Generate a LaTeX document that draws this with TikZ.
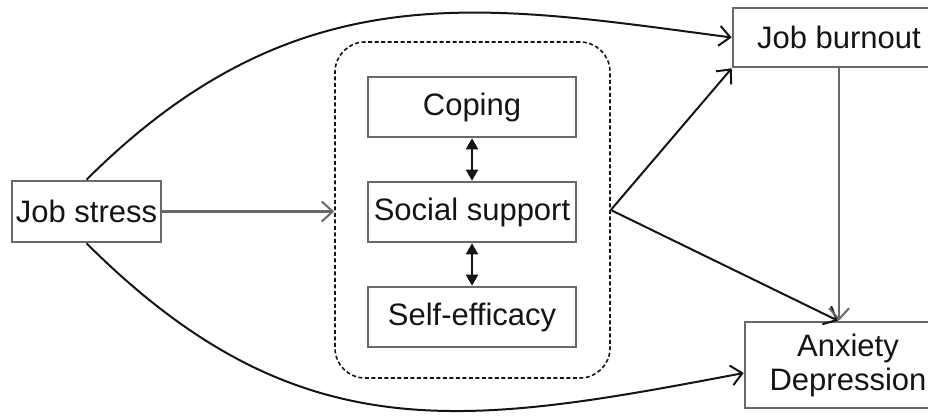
\documentclass[tikz,border=0pt]{standalone}
\usepackage{fontspec}
\setmainfont{Liberation Sans}
\usepackage{tikz}
\usetikzlibrary{positioning}
\usetikzlibrary{arrows.meta}
\definecolor{boxgray}{RGB}{105,105,105}
\definecolor{ink}{RGB}{20,20,20}
\tikzset{box/.style = {draw=boxgray, line width=2.6pt, inner sep=0pt,
                       text=ink, font=\fontsize{31}{34}\selectfont}}
\tikzset{grp/.style = {draw=ink, line width=1.6pt, dash pattern=on 4pt off 2.5pt,
                       rounded corners=30pt, inner sep=0pt}}
\tikzset{arr/.style = {draw=ink, line width=2pt,
                       -{Straight Barb[length=11pt,width=20pt,line width=2pt]}}}
\tikzset{garr/.style = {arr, draw=boxgray, line width=2.8pt}}
\tikzset{dbl/.style = {draw=ink, line width=2pt,
                       {Triangle[length=11pt,width=12pt]}-{Triangle[length=11pt,width=12pt]}}}
\tikzset{every picture/.style={x=1pt, y=1pt}}

\begin{document}
\begin{tikzpicture}
      \useasboundingbox (0,0) rectangle (928,416);
      \clip (0,0) rectangle (928,416);
      \node[grp, minimum width=275, minimum height=336] (grp) at (472.5,206) {};
      \node[box, minimum width=149, minimum height=61] (stress) at (86.5,204.5) {Job stress};
      \node[box, minimum width=208, minimum height=60] (coping) at (472,309) {Coping};
      \node[box, minimum width=208, minimum height=60] (social) at (472,204) {Social support};
      \node[box, minimum width=208, minimum height=60] (selfeff) at (472,99) {Self-efficacy};
      \node[box, minimum width=212, minimum height=59] (burnout) at (839,378.5) {Job burnout};
      \node[box, minimum width=206, minimum height=86, align=center] (anxiety) at (848,51)
           {Anxiety\\Depression};
      \draw[dbl] (coping.south) -- (social.north);
      \draw[dbl] (social.south) -- (selfeff.north);
      \draw[garr] (stress.east) -- (stress.east -| grp.west);
      \draw[arr] (stress.north) .. controls (298,447) and (484,411) .. (burnout.west);
      \draw[arr] (stress.south) .. controls (298,-38) and (465,-10) .. ([yshift=-8]anxiety.west);
      \draw[arr] (grp.east) -- (burnout.south west);
      \draw[arr] (grp.east) -- ([xshift=-10]anxiety.north);
      \draw[garr] (burnout.south) -- (burnout.south |- anxiety.north);
\end{tikzpicture}
\end{document}
